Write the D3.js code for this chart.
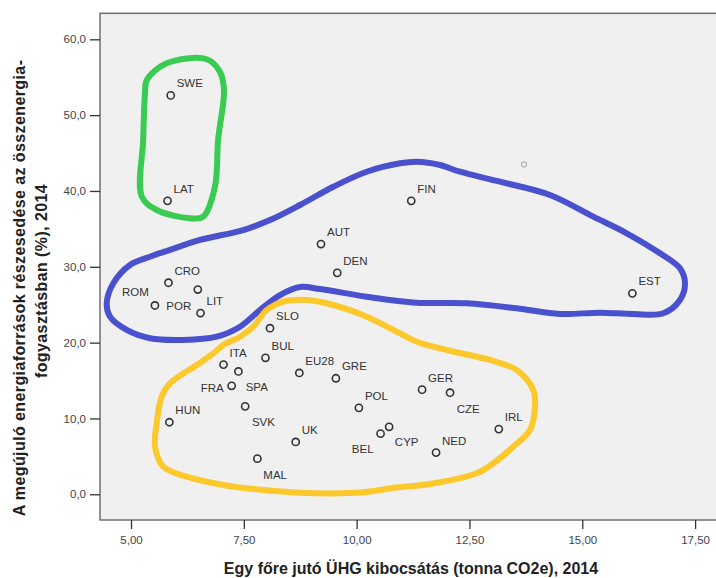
<!DOCTYPE html>
<html><head><meta charset="utf-8">
<script src="https://cdn.jsdelivr.net/npm/d3@7"></script>
<style>html,body{margin:0;padding:0;background:#fff;}svg{display:block;}</style>
</head><body>
<svg id="c" width="716" height="578"></svg>
<script>
// ---- data ----
const countries = ["SWE","LAT","FIN","AUT","DEN","CRO","POR","ROM","LIT","EST","SLO","BUL","ITA","SPA","FRA","EU28","GRE","HUN","SVK","POL","GER","CZE","UK","BEL","CYP","IRL","NED","MAL"];
const ghgPerCapita = [5.88,5.81,11.21,9.21,9.57,5.83,6.48,5.53,6.54,16.11,8.08,7.98,7.05,7.38,7.23,8.73,9.54,5.85,7.53,10.05,11.45,12.07,8.65,10.53,10.72,13.15,11.76,7.80];
const renewableShare = [52.6,38.7,38.7,33.0,29.2,27.9,27.0,24.9,23.9,26.5,21.9,18.0,17.1,16.2,14.3,16.0,15.3,9.5,11.6,11.4,13.8,13.4,6.9,8.0,8.9,8.6,5.5,4.7];
const ghostPoint = [13.71, 43.5];
const xTicks = [5, 7.5, 10, 12.5, 15, 17.5];
const yTicks = [0, 10, 20, 30, 40, 50, 60];
const xTitle = "Egy főre jutó ÜHG kibocsátás (tonna CO2e), 2014";
const yTitle = ["A megújuló energiaforrások részesedése az összenergia-", "fogyasztásban (%), 2014"];
// hand-drawn group outlines, in data units [x, y]
const greenGroup = [[5.35,54.64],[5.79,56.84],[6.68,57.37],[6.97,55.73],[7.06,53.32],[6.93,46.73],[6.86,40.56],[6.60,36.61],[6.31,36.40],[5.57,37.49],[5.24,39.25],[5.27,46.73],[5.31,52.88]];
const blueGroup = [[4.462,25.19],[4.608,27.83],[4.978,30.24],[5.421,31.33],[5.864,32.22],[6.529,33.54],[7.488,34.85],[8.080,36.17],[8.745,38.15],[9.483,40.56],[10.223,42.54],[10.961,43.65],[11.331,43.86],[11.847,43.43],[12.290,42.54],[13.176,41.22],[14.284,39.47],[15.244,36.61],[15.984,34.42],[16.722,31.78],[17.165,29.80],[17.276,27.83],[17.165,25.62],[16.795,23.87],[16.130,23.78],[15.392,23.95],[14.506,23.78],[13.546,24.53],[12.438,25.19],[11.331,25.27],[10.223,26.06],[9.188,27.07],[8.745,27.34],[8.302,26.28],[7.858,24.30],[7.415,22.10],[6.899,20.78],[6.159,20.35],[5.421,20.57],[4.905,21.67],[4.535,23.42]];
const yellowGroup = [[8.893,25.62],[9.483,24.96],[10.223,23.42],[10.961,21.23],[11.331,20.12],[11.995,19.03],[12.955,17.71],[13.546,16.39],[13.914,13.75],[13.952,11.55],[13.841,8.48],[13.471,6.28],[13.028,4.09],[12.660,2.77],[11.625,1.36],[10.887,0.90],[10.147,0.26],[9.115,0.13],[7.932,0.57],[7.045,1.23],[6.234,2.32],[5.716,3.64],[5.532,6.28],[5.569,9.36],[5.680,12.87],[5.864,14.64],[6.456,17.05],[6.824,18.59],[7.045,19.69],[7.415,20.78],[7.710,22.10],[8.007,24.30],[8.375,25.40]];

// ---- layout / style ----
const labelPlacement = {
  ROM:[-6,-9,"end"], POR:[-31.5,20,"start"], FRA:[-8,5.7,"end"], SPA:[7.3,19.7,"start"],
  SVK:[6.7,19.7,"start"], MAL:[6,20.3,"start"], BEL:[-7,19.7,"end"], CYP:[5.7,19.4,"start"], CZE:[6.7,20,"start"]
};
const plot = {left:100, top:13.3, right:716, bottom:520};
const svg = d3.select("#c");
const x = d3.scaleLinear().domain([4.313, 17.963]).range([plot.left, plot.right]);
const y = d3.scaleLinear().domain([-3.39, 63.43]).range([plot.bottom, plot.top]);
const fmt1 = d => d3.format(".1f")(d).replace(".", ",");
const fmt2 = d => d3.format(".2f")(d).replace(".", ",");
const font = "'Liberation Sans', Arial, sans-serif";

svg.append("rect").attr("x", plot.left).attr("y", plot.top)
  .attr("width", plot.right - plot.left + 4).attr("height", plot.bottom - plot.top)
  .attr("fill", "#f0f0f0").attr("stroke", "#6f6f6f").attr("stroke-width", 1.5);

const yAxis = svg.append("g").attr("transform", `translate(${plot.left},0)`)
  .call(d3.axisLeft(y).tickValues(yTicks).tickFormat(fmt1).tickSize(10).tickPadding(4));
const xAxis = svg.append("g").attr("transform", `translate(0,${plot.bottom})`)
  .call(d3.axisBottom(x).tickValues(xTicks).tickFormat(fmt2).tickSize(9).tickPadding(7));
[yAxis, xAxis].forEach(a => {
  a.select(".domain").remove();
  a.selectAll(".tick line").attr("stroke", "#333").attr("stroke-width", 1.3);
  a.selectAll(".tick text").attr("fill", "#444").style("font-family", font).style("font-size", "11.5px");
});

// group outlines
const line = d3.line().x(d => x(d[0])).y(d => y(d[1])).curve(d3.curveCatmullRomClosed.alpha(0.5));
[[greenGroup, "#2fc84a"], [blueGroup, "#3f48cc"], [yellowGroup, "#fcc520"]].forEach(([pts, col]) => {
  svg.append("path").attr("d", line(pts)).attr("fill", "none")
    .attr("stroke", col).attr("stroke-width", 6).attr("stroke-linejoin", "round").attr("opacity", 0.95);
});

// ghost point
svg.append("circle").attr("cx", x(ghostPoint[0])).attr("cy", y(ghostPoint[1])).attr("r", 2.5)
  .attr("fill", "none").attr("stroke", "#b0b0b0").attr("stroke-width", 1.2);

// points
const data = countries.map((c, i) => ({c, gx: ghgPerCapita[i], r: renewableShare[i]}));
svg.append("g").selectAll("circle").data(data).join("circle")
  .attr("cx", d => x(d.gx)).attr("cy", d => y(d.r)).attr("r", 3.6)
  .attr("fill", "none").attr("stroke", "#333").attr("stroke-width", 1.6);
svg.append("g").selectAll("text").data(data).join("text")
  .attr("x", d => x(d.gx) + (labelPlacement[d.c] ? labelPlacement[d.c][0] : 6))
  .attr("y", d => y(d.r) + (labelPlacement[d.c] ? labelPlacement[d.c][1] : -8))
  .attr("text-anchor", d => labelPlacement[d.c] ? labelPlacement[d.c][2] : "start")
  .attr("fill", "#333").style("font-family", font).style("font-size", "11.5px")
  .text(d => d.c);

// axis titles
svg.append("text").attr("x", 411).attr("y", 574).attr("text-anchor", "middle")
  .style("font-family", font).style("font-size", "16px").style("font-weight", "bold").attr("fill", "#222")
  .text(xTitle);
yTitle.forEach((t, i) => {
  svg.append("text").attr("transform", `translate(${25 + i * 22},${288 - i * 7}) rotate(-90)`)
    .attr("text-anchor", "middle")
    .style("font-family", font).style("font-size", "16px").style("font-weight", "bold").attr("fill", "#222")
    .style("letter-spacing", "0.4px")
    .text(t);
});
</script>
</body></html>
